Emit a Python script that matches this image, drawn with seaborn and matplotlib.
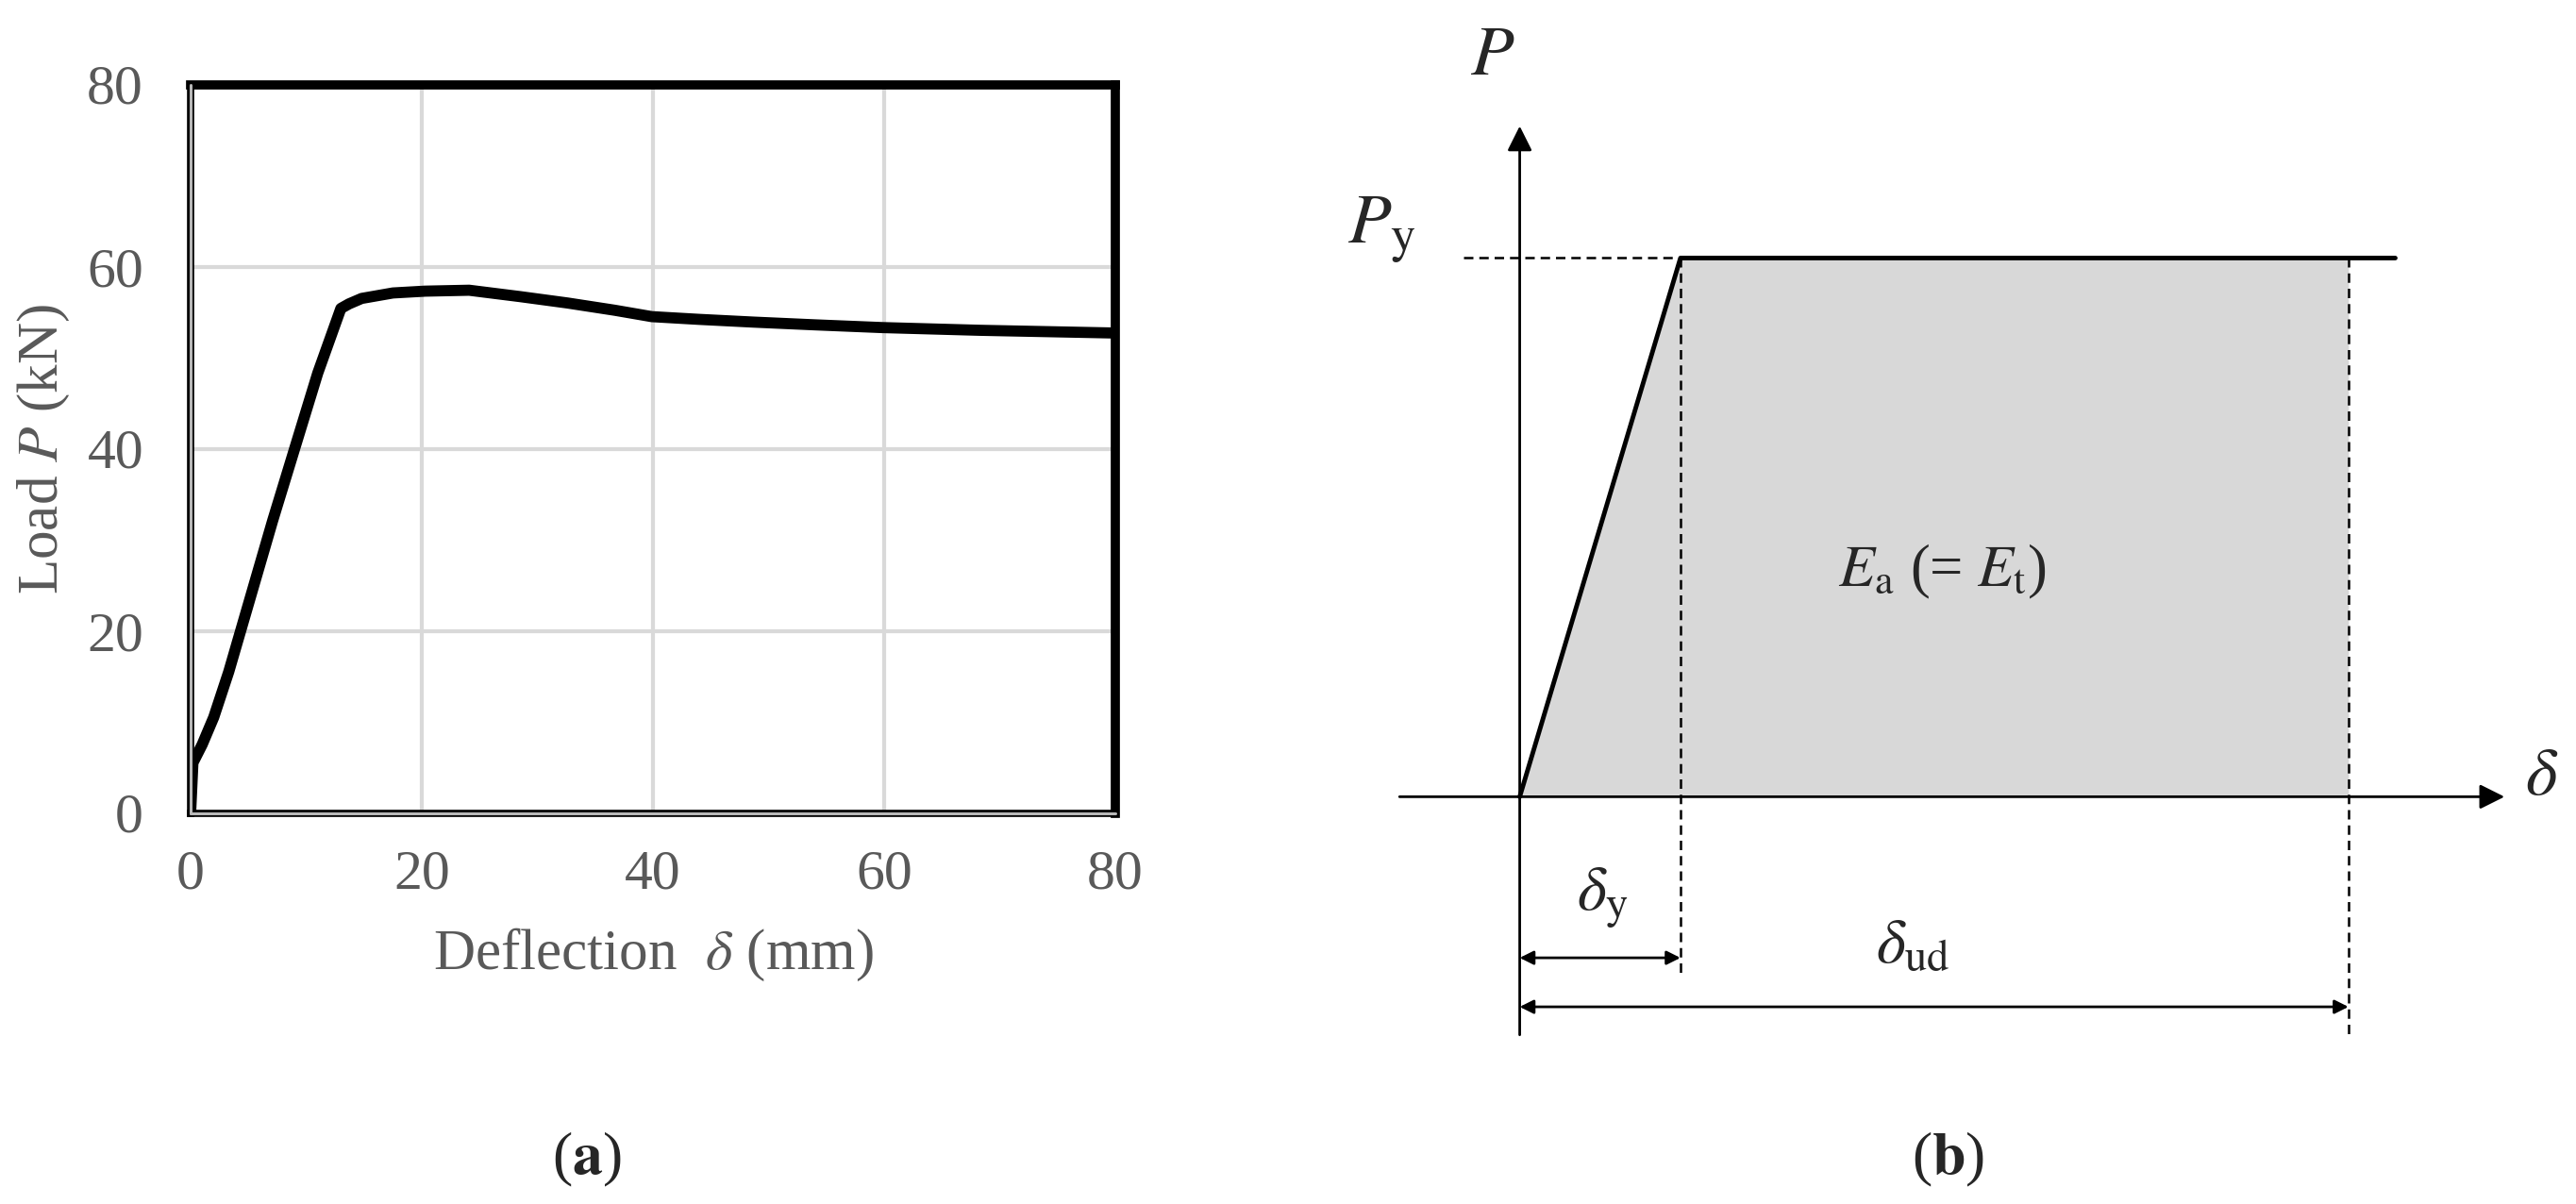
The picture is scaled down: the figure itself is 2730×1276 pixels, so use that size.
import numpy as np
import pandas as pd
import matplotlib
matplotlib.use("Agg")
import matplotlib.pyplot as plt
import seaborn as sns

# ---- (a) load-deflection curve ----
deflection = [0.0, 0.2, 1.0, 2.0, 3.3, 5.2, 7.1, 9.0, 11.0, 13.0, 13.7, 14.8,
              17.5, 20.3, 24.1, 28.5, 32.6, 36.7, 39.9, 44.0, 48.7, 54.0,
              59.8, 68.3, 80.0]
load = [0.0, 5.5, 7.5, 10.5, 15.5, 23.8, 32.1, 40.0, 48.3, 55.4, 55.9, 56.5,
        57.1, 57.3, 57.4, 56.7, 56.0, 55.2, 54.5, 54.2, 53.9, 53.6,
        53.3, 53.0, 52.7]
ticks = [0, 20, 40, 60, 80]

# ---- (b) idealised bilinear model (schematic units) ----
delta_y = 1.03     # yield deflection
delta_ud = 5.31    # ultimate deflection
delta_end = 5.61   # end of plateau line
P_y = 1.0          # yield load

sns.set_theme(style="white")
plt.rcParams["font.family"] = ["Liberation Serif", "DejaVu Serif"]
plt.rcParams["mathtext.fontset"] = "stix"

fig = plt.figure(figsize=(27.3, 12.76), dpi=100)

# ================= panel (a) =================
ax = fig.add_axes([202 / 2730, 1 - 861.5 / 1276, 980 / 2730, 772 / 1276])
df = pd.DataFrame({"deflection": deflection, "load": load})
sns.lineplot(data=df, x="deflection", y="load", ax=ax, color="black",
             lw=8.5, sort=False, zorder=5)
ax.set_xlim(0, 80)
ax.set_ylim(0, 80)
ax.set_xticks(ticks)
ax.set_yticks(ticks)
ax.grid(True, color="#d9d9d9", lw=3)
ax.tick_params(axis="both", labelsize=43, colors="#595959", length=0)
ax.tick_params(axis="x", pad=28)
ax.tick_params(axis="y", pad=36)
for side in ["top", "right"]:
    ax.spines[side].set_color("black")
    ax.spines[side].set_linewidth(7)
for side in ["left", "bottom"]:
    ax.spines[side].set_color("black")
    ax.spines[side].set_linewidth(5.5)
ax.axvline(0, color="#b8b8b8", lw=2.2, zorder=6, clip_on=False)
ax.axhline(0, color="#b8b8b8", lw=2.2, zorder=6, clip_on=False)
ax.set_xlabel(r"Deflection  $\delta$ (mm)", fontsize=44, color="#595959",
              labelpad=20)
ax.set_ylabel(r"Load $P$ (kN)", fontsize=44, color="#595959", labelpad=12)

fig.text(357 / 1568, 0.037, r"($\mathbf{a}$)", fontsize=46,
         ha="center", va="center")

# ================= panel (b) =================
bx = fig.add_axes([1380 / 2730, 0.0, 1350 / 2730, 1.0])
bx.set_xlim(-1.394, 6.768)
bx.set_ylim(-0.756, 1.479)
bx.axis("off")

# shaded energy area
bx.fill_between([0, delta_y, delta_ud], [0, P_y, P_y], [0, 0, 0],
                color="#d8d8d8", lw=0, zorder=1)

# axes with arrows
axis_arrow = dict(arrowstyle="-|>", lw=2, color="black",
                  mutation_scale=40, shrinkA=0, shrinkB=0)
bx.annotate("", xy=(6.31, 0), xytext=(-0.77, 0), arrowprops=axis_arrow)
bx.annotate("", xy=(0, 1.245), xytext=(0, -0.442), arrowprops=axis_arrow)

# bilinear curve
bx.plot([0, delta_y, delta_end], [0, P_y, P_y], color="black", lw=3.5,
        zorder=4)

# dashed guides
dash = dict(color="black", lw=1.8, ls=(0, (4, 2.5)), zorder=3)
bx.plot([-0.36, delta_y], [P_y, P_y], **dash)
bx.plot([delta_y, delta_y], [P_y, -0.326], **dash)
bx.plot([delta_ud, delta_ud], [P_y, -0.442], **dash)

# dimension arrows
dim_arrow = dict(arrowstyle="<|-|>", lw=2, color="black",
                 mutation_scale=22, shrinkA=0, shrinkB=0)
bx.annotate("", xy=(0, -0.299), xytext=(delta_y, -0.299),
            arrowprops=dim_arrow)
bx.annotate("", xy=(0, -0.39), xytext=(delta_ud, -0.39),
            arrowprops=dim_arrow)

# labels
bx.text(-0.316, 1.341, r"$P$", fontsize=54, ha="left", va="baseline")
bx.text(-1.105, 1.027, r"$P_{\mathrm{y}}$", fontsize=54, ha="left",
        va="baseline")
bx.text(6.44, 0.034, r"$\delta$", fontsize=52, ha="left", va="center")
bx.text(2.04, 0.39, r"$E_{\mathrm{a}}$ (= $E_{\mathrm{t}}$)", fontsize=45,
        ha="left", va="baseline")
bx.text(0.53, -0.21, r"$\delta_{\mathrm{y}}$", fontsize=48, ha="center",
        va="baseline")
bx.text(2.28, -0.308, r"$\delta_{\mathrm{ud}}$", fontsize=48, ha="left",
        va="baseline")

fig.text(1186 / 1568, 0.037, r"($\mathbf{b}$)", fontsize=46,
         ha="center", va="center")

fig.savefig("out.png", dpi=100)
